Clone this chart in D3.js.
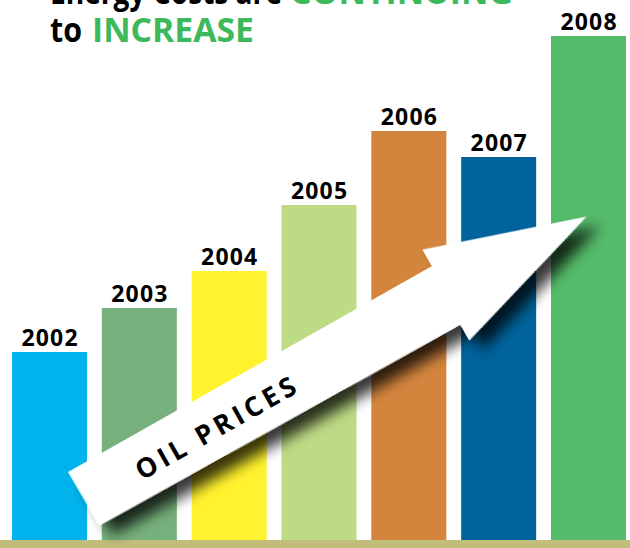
<!DOCTYPE html>
<html>
<head>
<meta charset="utf-8">
<script src="https://cdn.jsdelivr.net/npm/d3@7"></script>
<style>
  html, body { margin: 0; padding: 0; background: #fff; }
  svg { display: block; }
  text { font-family: "Open Sans", sans-serif; font-weight: 700; }
</style>
</head>
<body>
<div id="chart"></div>
<script>
// data (bar heights in px-like units above the base line)
var years = ["2002", "2003", "2004", "2005", "2006", "2007", "2008"];
var values = [188, 232, 269, 335, 409, 383, 504];
var colors = ["#00b3ec", "#76b07c", "#fff22e", "#bddb85", "#d4853d", "#00639c", "#55bb6a"];
// title pieces: text, colour, left x, width
var titleLine1 = [["Energy Costs are", "#000", 50, 232], ["CONTINUING", "#3db95c", 290, 223]];
var titleLine2 = [["to", "#000", 50, 32], ["INCREASE", "#3db95c", 92, 162]];
var arrowLabel = "OIL PRICES";

var width = 630, height = 548;
var baseY = 540;

var svg = d3.select("#chart").append("svg")
  .attr("width", width)
  .attr("height", height);

var defs = svg.append("defs");
var shadow = defs.append("filter")
  .attr("id", "arrowShadow")
  .attr("x", "-20%").attr("y", "-30%")
  .attr("width", "150%").attr("height", "170%");
shadow.append("feDropShadow")
  .attr("dx", 7).attr("dy", 15)
  .attr("stdDeviation", 7)
  .attr("flood-color", "#000")
  .attr("flood-opacity", 0.78);

// scales
var xScale = d3.scaleBand()
  .domain(years)
  .range([12, 626])
  .paddingInner(0.165)
  .paddingOuter(0);

var yScale = d3.scaleLinear()
  .domain([0, d3.max(values)])
  .range([baseY, 36]);

var data = years.map(function (y, i) {
  return { year: y, value: values[i], color: colors[i] };
});

// bars
svg.selectAll("rect.bar")
  .data(data)
  .enter()
  .append("rect")
  .attr("class", "bar")
  .attr("x", function (d) { return xScale(d.year); })
  .attr("y", function (d) { return yScale(d.value); })
  .attr("width", xScale.bandwidth())
  .attr("height", function (d) { return yScale(0) - yScale(d.value); })
  .attr("fill", function (d) { return d.color; });

// year labels
svg.selectAll("text.year")
  .data(data)
  .enter()
  .append("text")
  .attr("class", "year")
  .attr("x", function (d) { return xScale(d.year) + xScale.bandwidth() / 2 + 0.6; })
  .attr("y", function (d) { return yScale(d.value) - 6; })
  .attr("text-anchor", "middle")
  .style("font-size", "23px")
  .style("letter-spacing", "1.2px")
  .attr("fill", "#000")
  .text(function (d) { return d.year; });

// ground strip
svg.append("rect")
  .attr("x", 0)
  .attr("y", baseY)
  .attr("width", width)
  .attr("height", height - baseY)
  .attr("fill", "#c1bd7b");

// arrow, laid out along the shaft (u) and across it (v)
var arrowPts = [[0, 0], [418, 0], [418, -19], [577, 33], [414, 83], [414, 65], [1, 62]];
var arrow = svg.append("g")
  .attr("transform", "translate(68,472) rotate(-29.5)");

arrow.append("polygon")
  .attr("points", arrowPts.map(function (p) { return p.join(","); }).join(" "))
  .attr("fill", "#fff")
  .attr("filter", "url(#arrowShadow)");

arrow.append("text")
  .attr("x", 152)
  .attr("y", 44)
  .attr("text-anchor", "middle")
  .style("font-size", "27px")
  .style("letter-spacing", "4px")
  .attr("fill", "#000")
  .text(arrowLabel);

// title
function titleLine(parts, y) {
  parts.forEach(function (p) {
    svg.append("text")
      .attr("x", p[2])
      .attr("y", y)
      .attr("textLength", p[3])
      .attr("lengthAdjust", "spacingAndGlyphs")
      .style("font-size", "34px")
      .attr("fill", p[1])
      .text(p[0]);
  });
}
titleLine(titleLine1, 4);
titleLine(titleLine2, 42);
</script>
</body>
</html>
